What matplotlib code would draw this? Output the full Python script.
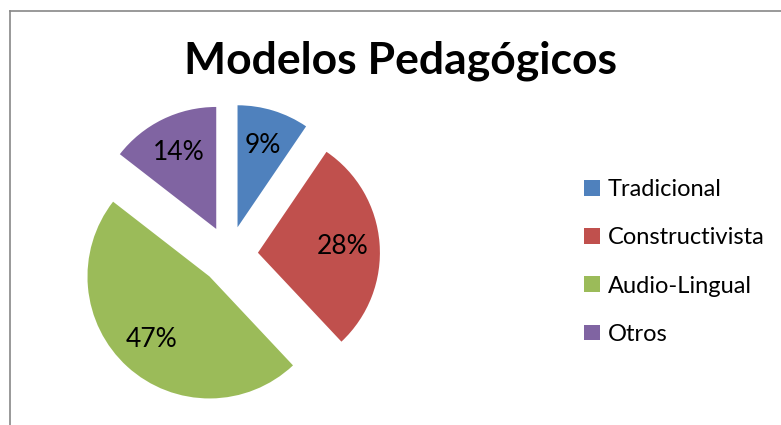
import matplotlib
matplotlib.use("Agg")
import matplotlib.pyplot as plt
from matplotlib.lines import Line2D

# slice data (shares, labels as printed)
categories = ["Tradicional", "Constructivista", "Audio-Lingual", "Otros"]
shares = [9.5, 28.5, 47.5, 14.5]
pct_labels = ["9%", "28%", "47%", "14%"]
colors = ["#4F81BD", "#C0504D", "#9BBB59", "#8064A2"]

W, H = 781, 425
R_PX = 122          # pie radius in pixels
CX, CY = 229, 255   # pie centre in pixels (from top-left)
EXPLODE_PX = 29

plt.rcParams["font.family"] = ["Lato", "DejaVu Sans"]

fig = plt.figure(figsize=(W / 100, H / 100), dpi=100)
ax = fig.add_axes([0, 0, 1, 1])

wedges, _ = ax.pie(shares, colors=colors, startangle=90, counterclock=False,
                   explode=[EXPLODE_PX / R_PX] * len(shares), radius=1,
                   wedgeprops=dict(linewidth=0))
ax.set_xlim(-CX / R_PX, (W - CX) / R_PX)
ax.set_ylim(-(H - CY) / R_PX, CY / R_PX)
ax.axis("off")

# percentage labels inside each wedge
import numpy as np
for w, lab in zip(wedges, pct_labels):
    th = np.deg2rad((w.theta1 + w.theta2) / 2)
    x = w.center[0] + 0.70 * np.cos(th)
    y = w.center[1] + 0.70 * np.sin(th)
    ax.text(x, y, lab, ha="center", va="center", fontsize=19, color="black")

fig.text(401 / W, 1 - 61 / H, "Modelos Pedagógicos", ha="center", va="center",
         fontsize=32, fontweight="bold")

fig.legend(wedges, categories, loc="center left",
           bbox_to_anchor=(575 / W, 1 - 262 / H), frameon=False,
           fontsize=17, handlelength=0.65, handleheight=0.65,
           handletextpad=0.35, labelspacing=1.15, borderaxespad=0)

# chart border (top and left edges visible)
fig.add_artist(Line2D([10 / W, 10 / W], [0, 1 - 11 / H], color="#888888", lw=1.2))
fig.add_artist(Line2D([10 / W, 1], [1 - 11 / H, 1 - 11 / H], color="#888888", lw=1.2))

fig.savefig("out.png", dpi=100)
